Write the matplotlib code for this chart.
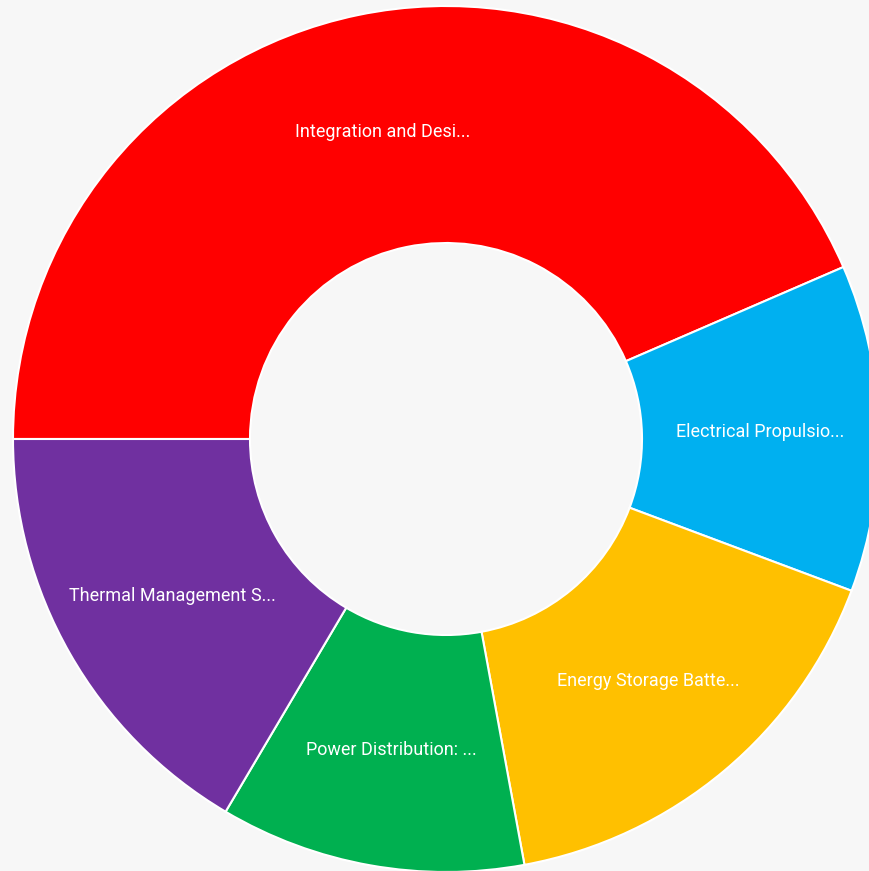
import matplotlib
matplotlib.use('Agg')
import matplotlib.pyplot as plt

plt.rcParams['font.family'] = ['Roboto', 'DejaVu Sans']

# slice data (share, %)
labels = ['Integration and Desi...', 'Electrical Propulsio...', 'Energy Storage Batte...',
          'Power Distribution: ...', 'Thermal Management S...']
shares = [43.5, 12.2, 16.4, 11.4, 16.5]
colors = ['#ff0000', '#00b0f0', '#ffc000', '#00b050', '#7030a0']

W, H = 870, 871
fig = plt.figure(figsize=(W / 100, H / 100), dpi=100)
fig.patch.set_facecolor('#f7f7f7')
ax = fig.add_axes([0, 0, 1, 1])
ax.set_facecolor('#f7f7f7')

cx, cy = 446, H - 439
r_out, r_in = 433, 196
wedges, texts = ax.pie(
    shares, colors=colors, startangle=180, counterclock=False,
    center=(cx, cy), radius=r_out, labels=labels,
    labeldistance=(r_out + r_in) / 2 / r_out,
    wedgeprops=dict(width=r_out - r_in, edgecolor='white', linewidth=1.5),
    textprops=dict(color='white', fontsize=13, ha='center', va='center'),
)
for t in texts:
    t.set_ha('center')
    t.set_va('center')
    x, y = t.get_position()
    t.set_position((x, y - 1))

ax.set_xlim(0, W)
ax.set_ylim(0, H)
ax.set_aspect('equal')
ax.axis('off')

fig.savefig('out.png', dpi=100, facecolor=fig.get_facecolor())
